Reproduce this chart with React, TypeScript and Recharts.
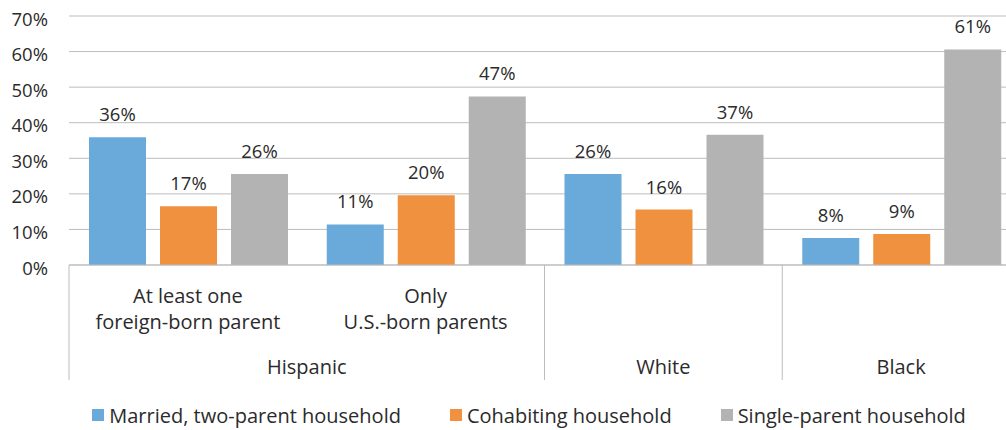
import React from 'react';
import { BarChart, Bar, XAxis, YAxis, CartesianGrid, Legend, LabelList } from 'recharts';

// ---- data ----
const categories = ['At least one foreign-born parent', 'Only U.S.-born parents', 'White', 'Black'];
const subLabels = [['At least one', 'foreign-born parent'], ['Only', 'U.S.-born parents'], [], []];
const groups = ['Hispanic', 'Hispanic', 'White', 'Black'];
const married = [35.9, 11.4, 25.6, 7.6];
const cohabiting = [16.5, 19.6, 15.6, 8.7];
const singleParent = [25.6, 47.4, 36.6, 60.6];
const yTicks = [0, 10, 20, 30, 40, 50, 60, 70];
const seriesNames = ['Married, two-parent household', 'Cohabiting household', 'Single-parent household'];
const seriesColors = ['#6AAADB', '#F0913F', '#B3B3B3'];

const data = categories.map((name, i) => ({
  name,
  married: married[i],
  cohabiting: cohabiting[i],
  single: singleParent[i],
}));

// ---- layout ----
const CHART_W = 1020;
const CHART_H = 430;
const MARGIN = { top: 16, right: 0, bottom: 0, left: 0 };
const Y_W = 69;
const X_H = 135;
const LEGEND_H = 30;
const BAND = (CHART_W - MARGIN.left - MARGIN.right - Y_W) / categories.length;
const FONT = '"Open Sans", Lato, sans-serif';
const FS = 20;
const FS_NUM = 18.5;
const TEXT = '#2b2b2b';
const AXIS = '#BDBDBD';

function CategoryTick(props: any) {
  const { x, y, payload } = props;
  const i: number = payload?.index ?? props.index ?? 0;
  const half = BAND / 2;
  const isGroupStart = i === 0 || groups[i - 1] !== groups[i];
  let groupLabel: React.ReactNode = null;
  let sep: React.ReactNode = null;
  if (isGroupStart) {
    let n = 1;
    while (i + n < groups.length && groups[i + n] === groups[i]) n++;
    const gx = x + (n - 1) * half;
    groupLabel = (
      <text x={gx} y={y + 109} textAnchor="middle" fill={TEXT} fontSize={FS} fontFamily={FONT}>
        {groups[i]}
      </text>
    );
    sep = <line x1={x - half} x2={x - half} y1={y} y2={y + 115} stroke={AXIS} strokeWidth={1} />;
  }
  const lines = subLabels[i] || [];
  return (
    <g>
      {sep}
      {lines.map((l, k) => (
        <text key={k} x={x} y={y + 38 + k * 26} textAnchor="middle" fill={TEXT} fontSize={FS} fontFamily={FONT}>
          {l}
        </text>
      ))}
      {groupLabel}
    </g>
  );
}

function LegendContent(props: any) {
  const payload = [...(props.payload || [])].sort(
    (a: any, b: any) => seriesNames.indexOf(a.value) - seriesNames.indexOf(b.value)
  );
  return (
    <div
      style={{
        display: 'flex',
        justifyContent: 'center',
        alignItems: 'center',
        height: LEGEND_H,
        paddingLeft: 38,
        gap: 49,
        fontFamily: FONT,
        fontSize: FS,
        color: TEXT,
        boxSizing: 'border-box',
      }}
    >
      {payload.map((p: any, k: number) => (
        <div key={k} style={{ display: 'flex', alignItems: 'center' }}>
          <span style={{ display: 'inline-block', width: 12, height: 12, background: p.color, marginRight: 5 }} />
          <span>{p.value}</span>
        </div>
      ))}
    </div>
  );
}

const pct = (v: any) => `${Math.round(Number(v))}%`;

export default function App() {
  return (
    <div style={{ position: 'absolute', left: 0, top: 0, width: 1006, height: 430, overflow: 'hidden', background: '#fff' }}>
      <BarChart
        width={CHART_W}
        height={CHART_H}
        data={data}
        margin={MARGIN}
        barGap={14}
        barCategoryGap={20}
      >
        <CartesianGrid vertical={false} stroke={AXIS} strokeWidth={1} />
        <XAxis
          dataKey="name"
          height={X_H}
          interval={0}
          tickLine={false}
          tickSize={0}
          tickMargin={0}
          axisLine={{ stroke: AXIS }}
          tick={<CategoryTick />}
        />
        <YAxis
          width={Y_W}
          domain={[0, 70]}
          ticks={yTicks}
          interval={0}
          tickFormatter={(v: number) => `${v}%`}
          axisLine={false}
          tickLine={false}
          tickSize={0}
          tickMargin={21}
          tick={{ fill: TEXT, fontSize: FS_NUM, fontFamily: FONT, dy: 3 }}
        />
        <Legend
          verticalAlign="bottom"
          align="center"
          height={LEGEND_H}
          itemSorter={null as any}
          wrapperStyle={{ left: 0, width: CHART_W, height: LEGEND_H }}
          content={<LegendContent />}
        />
        <Bar dataKey="married" name={seriesNames[0]} fill={seriesColors[0]} isAnimationActive={false}>
          <LabelList dataKey="married" position="top" offset={16} formatter={pct} fill={TEXT} fontSize={FS_NUM} fontFamily={FONT} />
        </Bar>
        <Bar dataKey="cohabiting" name={seriesNames[1]} fill={seriesColors[1]} isAnimationActive={false}>
          <LabelList dataKey="cohabiting" position="top" offset={16} formatter={pct} fill={TEXT} fontSize={FS_NUM} fontFamily={FONT} />
        </Bar>
        <Bar dataKey="single" name={seriesNames[2]} fill={seriesColors[2]} isAnimationActive={false}>
          <LabelList dataKey="single" position="top" offset={16} formatter={pct} fill={TEXT} fontSize={FS_NUM} fontFamily={FONT} />
        </Bar>
      </BarChart>
    </div>
  );
}
